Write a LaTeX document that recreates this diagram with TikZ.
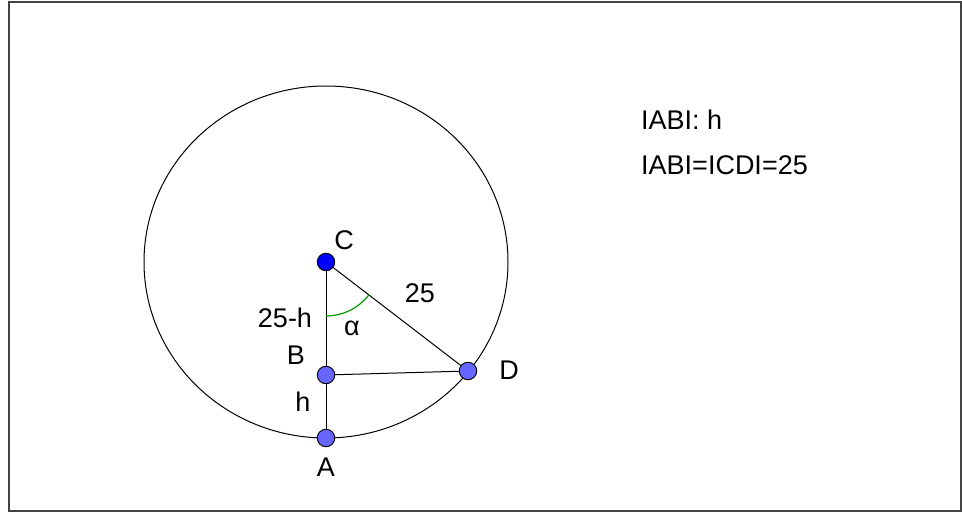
\documentclass[tikz,border=0pt]{standalone}
\usepackage{fontspec}
\setmainfont{Liberation Sans}
\usetikzlibrary{calc}
\definecolor{punkt}{RGB}{102,102,255}
\definecolor{mittel}{RGB}{0,0,255}
\definecolor{bogen}{RGB}{0,153,0}
\definecolor{rahmen}{RGB}{68,68,68}

\begin{document}
\begin{tikzpicture}[x=1pt, y=-1pt, font=\fontsize{27}{32}\selectfont,
	pt/.style={circle, draw=black, fill=punkt, inner sep=0pt, minimum size=17.5pt, line width=0.9pt},
	lbl/.style={inner sep=0pt}]

	% Rahmen
	\useasboundingbox (0,0) rectangle (962,513);
	\draw[rahmen, line width=2pt] (9,2) rectangle (961,511);

	% Kreis
	\draw[line width=1pt] (326,262) ellipse [x radius=182, y radius=176];

	% Punkte
	\coordinate (Cc) at (326,262);
	\coordinate (Bc) at (326,375);
	\coordinate (Ac) at (326,438);
	\coordinate (Dc) at (468,371);

	% Strecken
	\draw[line width=1pt] (Cc) -- (Ac);
	\draw[line width=1pt] (Bc) -- (Dc);
	\draw[line width=1pt] (Cc) -- (Dc);

	% Winkel
	\draw[bogen, line width=1.2pt] (326,316) arc[start angle=90, end angle=37.5, radius=54];

	\node[pt, fill=mittel] (C) at (Cc) {};
	\node[pt] (B) at (Bc) {};
	\node[pt] (A) at (Ac) {};
	\node[pt] (D) at (Dc) {};

	% Beschriftung
	\node[lbl] (lC) at (344,240) {C};
	\node[lbl] (lB) at (296,355) {B};
	\node[lbl] (lA) at (326,467) {A};
	\node[lbl] (lD) at (509,370) {D};
	\node[lbl] (lh) at (303,402) {h};
	\node[lbl] (l25h) at (285,318) {25-h};
	\node[lbl] (lal) at (352,328) {α};
	\node[lbl] (l25) at (420,293) {25};

	\node[lbl, anchor=west] (t1) at (641,120) {IABI: h};
	\node[lbl, anchor=west] (t2) at (641,165) {IABI=ICDI=25};

\end{tikzpicture}
\end{document}
